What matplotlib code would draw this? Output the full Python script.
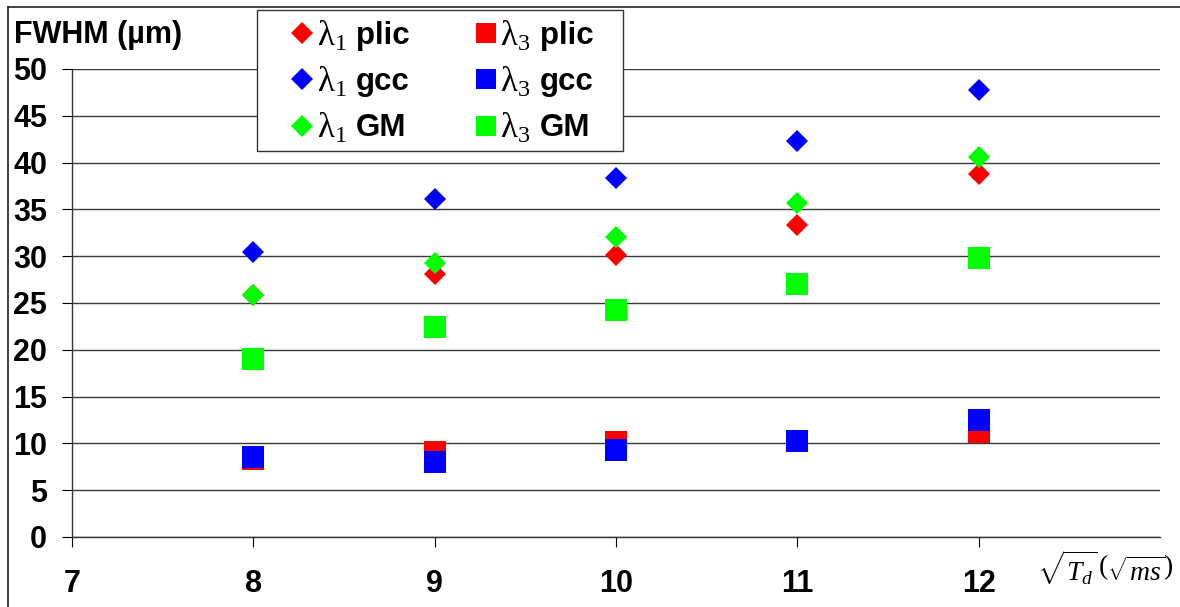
import matplotlib
matplotlib.use("Agg")
import matplotlib.pyplot as plt
from matplotlib.lines import Line2D
from matplotlib.patches import Rectangle
from matplotlib.text import Annotation

plt.rcParams['font.family'] = ['Liberation Sans', 'DejaVu Sans']
plt.rcParams['mathtext.fontset'] = 'custom'
plt.rcParams['mathtext.rm'] = 'Liberation Serif'
plt.rcParams['mathtext.it'] = 'Liberation Serif:italic'

# sqrt(Td) in sqrt(ms)
td = [8, 9, 10, 11, 12]

l1_plic = [25.9, 28.1, 30.1, 33.3, 38.8]
l1_gcc = [30.5, 36.1, 38.4, 42.3, 47.8]
l1_gm = [25.9, 29.3, 32.1, 35.7, 40.6]

l3_plic = [8.3, 9.1, 10.2, 10.3, 11.2]
l3_gcc = [8.5, 8.0, 9.3, 10.3, 12.5]
l3_gm = [19.0, 22.4, 24.3, 27.0, 29.8]

y_ticks = list(range(0, 55, 5))
x_ticks = [7, 8, 9, 10, 11, 12]

W, H = 1180, 607
fig = plt.figure(figsize=(W / 100, H / 100), dpi=100)
ax = fig.add_axes([72 / W, 1 - 537 / H, (1160 - 72) / W, (537 - 69) / H])

# (values, marker, colour, wavelength, method)
series = [
    (l1_plic, 'D', '#ff0000', '1', 'plic'),
    (l3_plic, 's', '#ff0000', '3', 'plic'),
    (l1_gcc, 'D', '#0000ff', '1', 'gcc'),
    (l3_gcc, 's', '#0000ff', '3', 'gcc'),
    (l1_gm, 'D', '#00ff00', '1', 'GM'),
    (l3_gm, 's', '#00ff00', '3', 'GM'),
]
handles = []
for vals, mk, col, wl, meth in series:
    ms = 11.5 if mk == 'D' else 15.5
    h, = ax.plot(td, vals, linestyle='none', marker=mk, markersize=ms,
                 color=col, markeredgewidth=0, zorder=3)
    handles.append(h)

ax.set_xlim(7, 13)
ax.set_ylim(0, 50)
ax.set_xticks(x_ticks)
ax.set_yticks(y_ticks)
ax.tick_params(axis='y', direction='out', length=7, width=0.8, pad=11, labelsize=22)
ax.tick_params(axis='x', direction='out', length=7, width=0.8, pad=16, labelsize=22)
for lbl in ax.get_xticklabels() + ax.get_yticklabels():
    lbl.set_fontweight('bold')

ax.grid(axis='y', color='#3a3a3a', linewidth=1.0, zorder=1)
ax.set_axisbelow(True)
for s in ['top', 'right']:
    ax.spines[s].set_visible(False)
for s in ['left', 'bottom']:
    ax.spines[s].set_color('#333333')
    ax.spines[s].set_linewidth(1.0)

# legend box drawn by hand so its size stays fixed
box = Rectangle((257 / W, 1 - 151 / H), (623 - 257) / W, (151 - 10) / H,
                transform=fig.transFigure, facecolor='white',
                edgecolor='#333333', linewidth=1.0, zorder=4)
fig.add_artist(box)

# legend: lambda_1 in the first column, lambda_3 in the second
order = [0, 2, 4, 1, 3, 5]
leg = fig.legend([handles[i] for i in order],
                 [series[i][4] for i in order],
                 loc='upper left', bbox_to_anchor=(257 / W, 1 - 10 / H),
                 ncol=2, frameon=False,
                 prop={'weight': 'bold', 'size': 22.5},
                 handlelength=2.2, handletextpad=0.62, columnspacing=1.35,
                 labelspacing=0.52, borderpad=0.35, borderaxespad=0,
                 markerscale=0.95)
leg.set_zorder(5)

# serif lambda symbols in front of each legend label
for i, txt in zip(order, leg.get_texts()):
    ann = Annotation(r'$\mathrm{\lambda}_\mathrm{%s}$' % series[i][3],
                     xy=(0, 0.5), xycoords=txt, xytext=(-7, 0),
                     textcoords='offset points', ha='right', va='center',
                     fontsize=25)
    ann.set_zorder(6)
    fig.add_artist(ann)

fig.text(14 / W, 1 - 35 / H, 'FWHM (µm)', fontsize=22, fontweight='bold',
         ha='left', va='center')
fig.text(1105 / W, 1 - 568 / H, r'$\sqrt{T_d}\,\left(\sqrt{ms}\right)$',
         fontsize=20, ha='center', va='center')

# page frame
fig.add_artist(Line2D([8 / W, 8 / W], [0, 1 - 7 / H], color='#222222',
                      linewidth=1.2, transform=fig.transFigure))
fig.add_artist(Line2D([8 / W, 1], [1 - 7 / H, 1 - 7 / H], color='#222222',
                      linewidth=1.2, transform=fig.transFigure))

fig.savefig('out.png', dpi=100)
